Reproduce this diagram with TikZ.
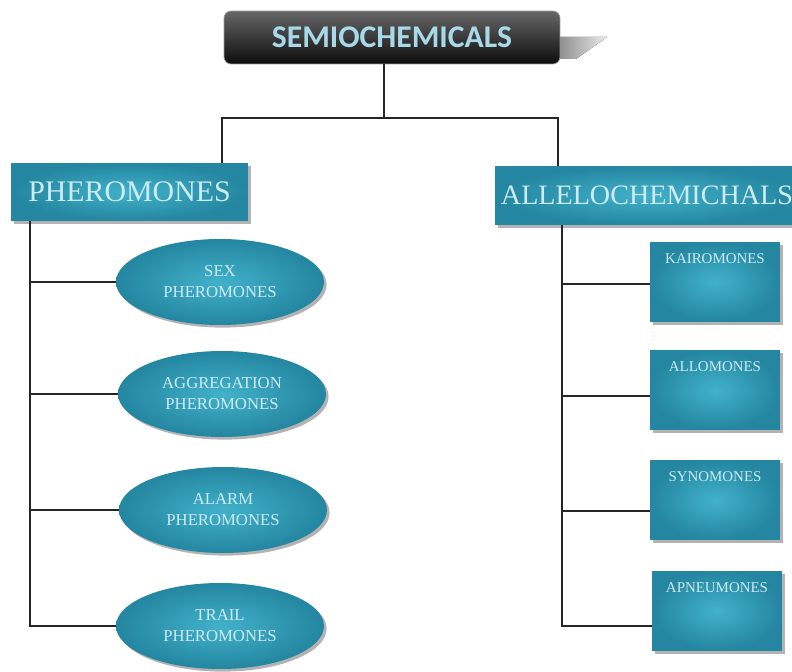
\documentclass[tikz,border=0pt]{standalone}
\usepackage{fontspec}
\setmainfont{Liberation Serif}
\newfontfamily\titlefont{Carlito}
\usetikzlibrary{shadows,shapes.geometric}

\definecolor{tealdark}{HTML}{2486A0}
\definecolor{teallight}{HTML}{42B1CA}
\definecolor{textlight}{HTML}{CDEBF3}
\definecolor{titletext}{HTML}{A9D9E9}

\tikzset{
  wire/.style={draw=black!85, line width=0.9pt},
  tealfill/.style={shading=radial, inner color=teallight, outer color=tealdark,
    drop shadow={shadow xshift=1.5pt, shadow yshift=-1.5pt, opacity=0.6}},
  classbox/.style={tealfill, rectangle, text=textlight, font=\fontsize{17}{19}\selectfont},
  pherbubble/.style={tealfill, ellipse, minimum width=4.16cm, minimum height=1.72cm,
    text=textlight, align=center, font=\fontsize{9.5}{12}\selectfont},
  allobox/.style={tealfill, rectangle, minimum width=2.6cm, minimum height=1.6cm},
  allolabel/.style={text=textlight, font=\fontsize{8.5}{10}\selectfont, anchor=north}
}

\begin{document}
\begin{tikzpicture}[x=0.02cm, y=-0.02cm]
  \useasboundingbox (0,0) rectangle (792,672);

  % shadow behind title
  \fill[left color=black!45, right color=black!8] (558,37) -- (607,37) -- (576,59) -- (558,59) -- cycle;

  % title
  \node[rectangle, rounded corners=4pt, minimum width=6.72cm, minimum height=1.06cm,
    top color=black!60, bottom color=black!95, draw=black!40, line width=0.4pt,
    text=titletext, font=\titlefont\bfseries\fontsize{18}{21}\selectfont]
    (semio) at (392,37.5) {SEMIOCHEMICALS};

  % two classes
  \node[classbox, minimum width=4.74cm, minimum height=1.16cm] (pher) at (129.5,192) {PHEROMONES};
  \node[classbox, minimum width=5.8cm, minimum height=1.18cm, font=\fontsize{16}{18}\selectfont]
    (allelo) at (647,195.5) {ALLELOCHEMICHALS};

  % pheromones
  \node[pherbubble] (sex) at (220,282) {SEX\\PHEROMONES};
  \node[pherbubble] (aggr) at (222,394) {AGGREGATION\\PHEROMONES};
  \node[pherbubble] (alarm) at (223,510) {ALARM\\PHEROMONES};
  \node[pherbubble] (trail) at (220,626) {TRAIL\\PHEROMONES};

  % allelochemicals
  \node[allobox] (kairo) at (715,282) {};
  \node[allobox] (allom) at (715,390) {};
  \node[allobox] (synom) at (715,500) {};
  \node[allobox] (apneu) at (717,611) {};
  \node[allolabel] at ([yshift=-3pt]kairo.north) {KAIROMONES};
  \node[allolabel] at ([yshift=-3pt]allom.north) {ALLOMONES};
  \node[allolabel] at ([yshift=-3pt]synom.north) {SYNOMONES};
  \node[allolabel] at ([yshift=-3pt]apneu.north) {APNEUMONES};

  % connectors
  \coordinate (split) at (384,118);
  \coordinate (pherdrop) at (30,626);
  \coordinate (allodrop) at (562,626);
  \draw[wire] (semio.south -| split) -- (split);
  \draw[wire] (split) -| (pher.north -| 222,0);
  \draw[wire] (split) -| (allelo.north -| 558,0);

  \draw[wire] (pher.south -| pherdrop) -- (pherdrop) -- (trail.west);
  \draw[wire] (sex.west -| pherdrop) -- (sex.west);
  \draw[wire] (aggr.west -| pherdrop) -- (aggr.west);
  \draw[wire] (alarm.west -| pherdrop) -- (alarm.west);

  \draw[wire] (allelo.south -| allodrop) -- (allodrop) -- (apneu.west |- allodrop);
  \draw[wire] (allodrop |- 0,284) -- (kairo.west |- 0,284);
  \draw[wire] (allodrop |- 0,396) -- (allom.west |- 0,396);
  \draw[wire] (allodrop |- 0,511) -- (synom.west |- 0,511);
\end{tikzpicture}
\end{document}
